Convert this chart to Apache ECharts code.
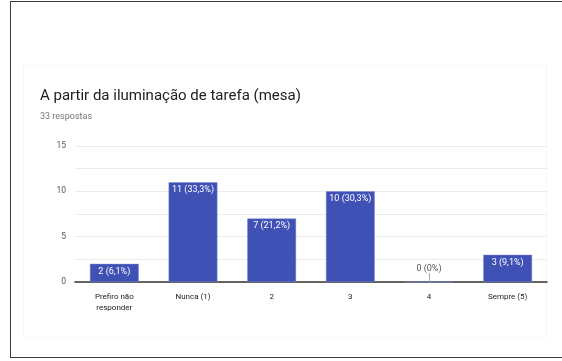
<!DOCTYPE html>
<html>
<head>
<meta charset="utf-8">
<script src="https://cdn.jsdelivr.net/npm/echarts@6/dist/echarts.min.js"></script>
<style>
  html, body { margin: 0; padding: 0; background: #fff; }
  #frame { position: absolute; left: 10px; top: 1px; width: 600px; height: 357px; border: 1.5px solid #3a3a3a; box-sizing: border-box; }
  #card { position: absolute; left: 23px; top: 65px; width: 524px; height: 273px; border: 1px solid #f7f7f7; box-sizing: border-box; }
  #chart { position: absolute; left: 0; top: 0; width: 562px; height: 361px; }
</style>
</head>
<body>
<div id="frame"></div>
<div id="card"></div>
<div id="chart"></div>
<script>
// Survey answers: how often desk task lighting is used
const categories = ['Prefiro não\nresponder', 'Nunca (1)', '2', '3', '4', 'Sempre (5)'];
const counts = [2, 11, 7, 10, 0, 3];
const percents = ['6,1%', '33,3%', '21,2%', '30,3%', '0%', '9,1%'];
const yTicks = [0, 5, 10, 15];

const chart = echarts.init(document.getElementById('chart'), null, { renderer: 'canvas' });

const barColor = '#3f51b5';

chart.setOption({
  backgroundColor: 'transparent',
  animation: false,
  title: [
    {
      text: 'A partir da iluminação de tarefa (mesa)',
      left: 35, top: 84,
      textStyle: { fontFamily: 'Roboto', fontSize: 15, fontWeight: 'normal', color: '#212121' }
    },
    {
      text: '33 respostas',
      left: 35, top: 107,
      textStyle: { fontFamily: 'Roboto', fontSize: 9, fontWeight: 'normal', color: '#757575' }
    }
  ],
  grid: { left: 75, right: 15, top: 146, bottom: 79 },
  xAxis: {
    type: 'category',
    data: categories,
    axisLine: { lineStyle: { color: '#333', width: 1.5 } },
    axisTick: { show: false },
    axisLabel: {
      interval: 0, margin: 9,
      fontFamily: 'Roboto', fontSize: 8, color: '#222', lineHeight: 11
    }
  },
  yAxis: {
    type: 'value',
    min: 0, max: yTicks[yTicks.length - 1], interval: 2.5,
    axisLine: { show: false },
    axisTick: { show: false },
    splitLine: { lineStyle: { color: '#ececec', width: 1 } },
    axisLabel: {
      margin: 9,
      fontFamily: 'Roboto', fontSize: 8.5, color: '#555',
      formatter: v => (yTicks.indexOf(v) >= 0 ? String(v) : '')
    }
  },
  series: [{
    type: 'bar',
    data: counts.map((v, i) => ({
      value: v,
      label: v === 0
        ? { position: 'top', distance: 9, color: '#555' }
        : { position: 'insideTop', distance: 3, color: '#fff' }
    })),
    barWidth: '62%',
    itemStyle: { color: barColor, borderColor: '#7986cb', borderWidth: 0.5 },
    label: {
      show: true,
      fontFamily: 'Roboto', fontSize: 9,
      formatter: p => p.value + ' (' + percents[p.dataIndex] + ')'
    },
    markLine: {
      silent: true,
      symbol: 'none',
      label: { show: false },
      lineStyle: { color: '#aaa', type: 'solid', width: 1 },
      data: [[{ coord: ['4', 0] }, { coord: ['4', 1] }]]
    }
  }]
});
</script>
</body>
</html>
